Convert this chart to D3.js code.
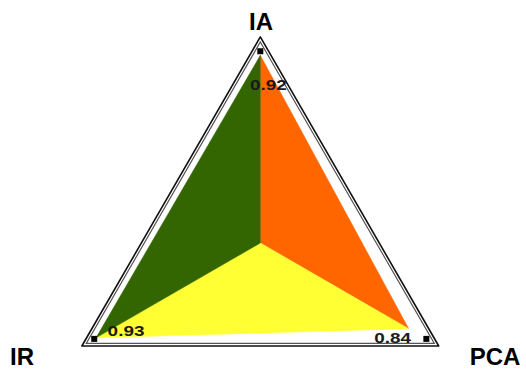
<!DOCTYPE html>
<html>
<head>
<meta charset="utf-8">
<script src="https://cdn.jsdelivr.net/npm/d3@7"></script>
<style>
  body { margin: 0; background: #fff; }
  text { font-family: "Liberation Sans", Arial, sans-serif; }
</style>
</head>
<body>
<svg id="chart" width="526" height="371"></svg>
<script>
var categories = ["IA", "PCA", "IR"];
var values = [0.92, 0.84, 0.93];
var valueLabels = ["0.92", "0.84", "0.93"];
var sectorColors = ["#ff6600", "#ffff33", "#336600"]; // between axis i and i+1

var svg = d3.select("#chart"),
    cx = 260.3, cy = 243;

var r = d3.scaleLinear().domain([0, 1]).range([0, 204]);
var angle = d3.scaleOrdinal().domain(categories).range([-90, 30, 150]);

function pt(cat, v) {
  var a = angle(cat) * Math.PI / 180;
  return [cx + r(v) * Math.cos(a), cy + r(v) * Math.sin(a)];
}

var g = svg.append("g");
var line = d3.line();

// colored sectors: center + two neighbouring data points
categories.forEach(function(c, i) {
  var j = (i + 1) % categories.length;
  g.append("path")
    .attr("d", line([[cx, cy], pt(c, values[i]), pt(categories[j], values[j])]) + "Z")
    .attr("fill", sectorColors[i])
    .attr("stroke", sectorColors[i])
    .attr("stroke-width", 0.5);
});

// frame, double line
g.append("path")
  .attr("d", line(categories.map(function(c) { return pt(c, 0.985); })) + "Z")
  .attr("fill", "none")
  .attr("stroke", "#555")
  .attr("stroke-width", 1.2);
g.append("path")
  .attr("d", line(categories.map(function(c) { return pt(c, 1.01); })) + "Z")
  .attr("fill", "none")
  .attr("stroke", "#111")
  .attr("stroke-width", 1.6)
  .attr("stroke-linejoin", "round");

// axis end markers
g.selectAll(".marker")
  .data(categories)
  .enter().append("rect")
    .attr("class", "marker")
    .attr("x", function(c) { return pt(c, 0.94)[0] - 3; })
    .attr("y", function(c) { return pt(c, 0.94)[1] - 3; })
    .attr("width", 6)
    .attr("height", 6)
    .attr("fill", "#000");

// value labels
var labelOffset = { IA: [8, 35], PCA: [-16, 14], IR: [30, -2] };
g.selectAll(".val")
  .data(categories)
  .enter().append("text")
    .attr("class", "val")
    .attr("transform", function(c) {
      var p = pt(c, values[categories.indexOf(c)]);
      return "translate(" + (p[0] + labelOffset[c][0]) + "," + (p[1] + labelOffset[c][1]) + ") scale(1.35,1)";
    })
    .attr("text-anchor", "middle")
    .attr("font-size", 14)
    .attr("font-weight", "bold")
    .attr("fill", "#1a1a1a")
    .text(function(c, i) { return valueLabels[i]; });

// axis names
var namePos = { IA: [261, 30], PCA: [495, 365], IR: [22, 365] };
g.selectAll(".name")
  .data(categories)
  .enter().append("text")
    .attr("class", "name")
    .attr("x", function(c) { return namePos[c][0]; })
    .attr("y", function(c) { return namePos[c][1]; })
    .attr("text-anchor", "middle")
    .attr("font-size", 24)
    .attr("font-weight", "bold")
    .attr("fill", "#000")
    .text(function(c) { return c; });
</script>
</body>
</html>
